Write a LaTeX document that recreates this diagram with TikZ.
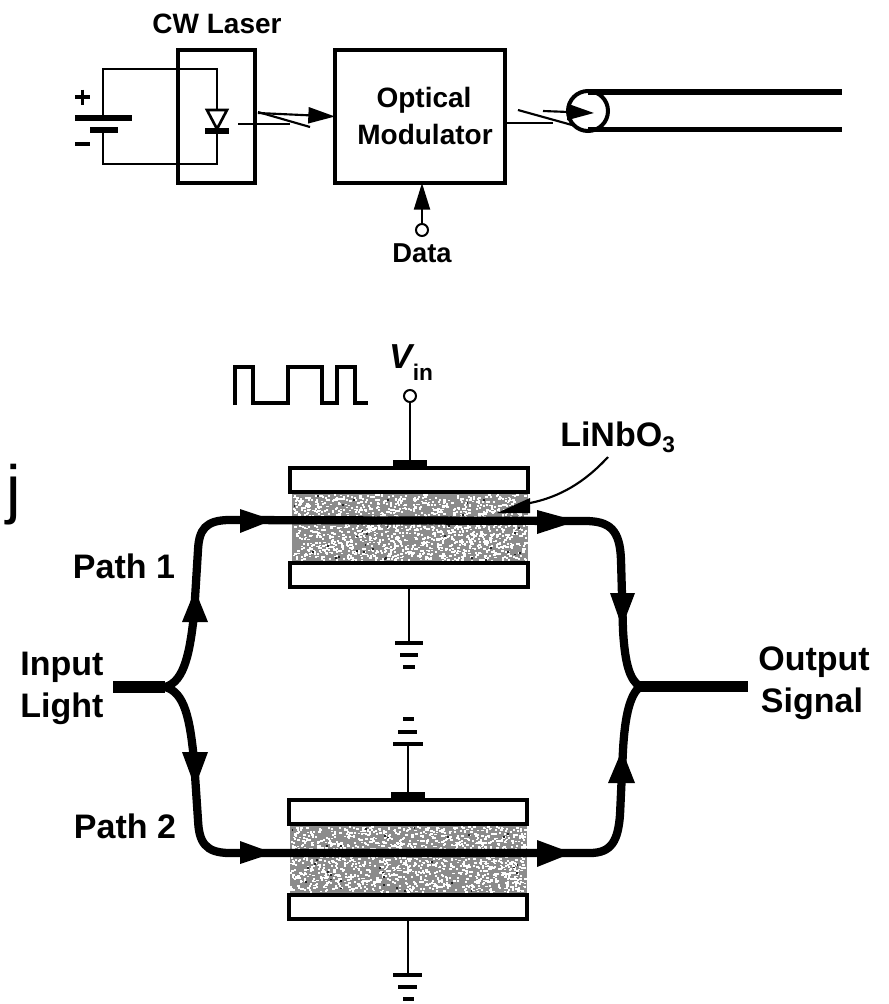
\documentclass[tikz,border=0pt]{standalone}
\usepackage{fontspec}
\setmainfont{Liberation Sans}
\usetikzlibrary{arrows.meta}
\newcommand{\speckle}[4]{%
  \fill[black!45] (#1,#2) rectangle ++(#3,#4);
  \foreach \i in {1,...,1500}{%
    \pgfmathsetmacro\xa{#1+rnd*(#3-2)}\pgfmathsetmacro\ya{#2+rnd*(#4-2)}%
    \fill[white] (\xa,\ya) rectangle ++(2.2,1.8);}
  \foreach \i in {1,...,35}{%
    \pgfmathsetmacro\xa{#1+rnd*(#3-2)}\pgfmathsetmacro\ya{#2+rnd*(#4-2)}%
    \fill[black!85] (\xa,\ya) rectangle ++(1.8,1.8);}
}
\tikzset{
  lab/.style={anchor=base,inner sep=0pt,font=\fontsize{25.5}{28}\selectfont\bfseries},
  labsm/.style={anchor=base,inner sep=0pt,font=\fontsize{21}{24}\selectfont\bfseries},
  box/.style={draw=black,line width=3.1pt,fill=white,inner sep=0pt,outer sep=0pt},
  plate/.style={box,minimum width=178pt,minimum height=18.5pt},
  pad/.style={fill=black,inner sep=0pt,outer sep=0pt,minimum width=25pt,minimum height=5pt},
  term/.style={circle,draw=black,fill=white,line width=1.5pt,inner sep=0pt,outer sep=0pt,minimum size=9pt},
  wire/.style={line width=2pt,line cap=butt},
  lead/.style={line width=2pt},
  thin wire/.style={line width=1.6pt},
  guide/.style={line width=6.2pt,line cap=round},
  trunk/.style={line width=8.4pt},
  fib/.style={line width=4.2pt},
  gbar/.style={line width=3.4pt},
  tip/.style={-{Triangle[length=20pt,width=12pt]},thin wire},
  head/.style={fill=black},
}
\begin{document}
\begin{tikzpicture}[x=0.75pt,y=-0.75pt]
\useasboundingbox (0,0) rectangle (889,1004);
\pgfmathsetseed{4711}

%% --- top: laser and modulator ---
\node[labsm] (cw) at (217,33) {CW Laser};
\node[box,minimum width=57.75pt,minimum height=99.75pt,fill=none] (laser) at (216.5,116.5) {};
\node[box,minimum width=127.5pt,minimum height=99.75pt] (mod) at (420,116.5) {};
\node[labsm] (opt) at (424,107) {Optical};
\node[labsm] (modt) at (425,144) {Modulator};

% battery
\coordinate (wtl) at (103,69); \coordinate (wtr) at (217,69);
\coordinate (wbl) at (103,164); \coordinate (wbr) at (217,164);
\coordinate (batA) at (103,118); \coordinate (batB) at (103,130);
\coordinate (diA) at (217,110); \coordinate (diB) at (217,131);
\draw[wire] (batA) -- (wtl) -- (wtr) -- (diA);
\draw[wire] (batB) -- (wbl) -- (wbr) -- (diB);
\draw[line width=4.6pt] (75,118) -- (132,118);
\draw[line width=4.6pt] (90,130) -- (118,130);
\draw[line width=2.4pt] (75,97) -- (90,97) (82.5,89.5) -- (82.5,104.5);
\draw[line width=2.4pt] (75,144) -- (90,144);
% diode
\draw[line width=2pt,fill=white,line join=miter] (207,110) -- (227,110) -- (217,129) -- cycle;
\draw[line width=3.8pt] (205,131) -- (229,131);

% lightning 1
\coordinate (la) at (258,113);
\draw[tip] (la) -- (mod.west);
\draw[thin wire] (238,124) -- (290,124);
\draw[thin wire] (258,112) -- (310,127);

% fibre
\node[circle,draw=black,line width=3pt,minimum size=30pt,inner sep=0pt,outer sep=0pt] (fibre) at (588,111) {};
\coordinate (ft) at (842,92); \coordinate (fb) at (842,129.5);
\draw[fib] (fibre.center |- ft) -- (ft);
\draw[fib] (fibre.center |- fb) -- (fb);
\coordinate (lb) at (543,111); \coordinate (lbt) at (594,113);
\draw[tip] (lb) -- (lbt);
\draw[thin wire] (505,123) -- (553,123);
\draw[thin wire] (518,110) -- (572,125);

% data
\node[term] (dc) at (422,230) {};
\node[labsm,font=\fontsize{20.5}{24}\selectfont\bfseries] (data) at (422,262) {Data};
\draw[tip] (dc.north) -- (dc.north |- mod.south);

%% --- bottom: modulator arms ---
\speckle{292}{494}{236}{68}
\speckle{290}{826}{237}{67}
\node[plate] (pa) at (409,480) {};
\node[plate] (pb) at (409,575) {};
\node[plate] (pc) at (408,812) {};
\node[plate] (pd) at (408,907) {};
\node[pad] (padA) at (410,463.5) {};
\node[pad] (padC) at (408,795) {};

% Vin and waveform
\node[term] (vin) at (410,396) {};
\node[inner sep=0pt,anchor=base,font=\fontsize{26}{28}\selectfont\bfseries\itshape] (vt) at (401,368) {V};
\node[inner sep=0pt,anchor=base,font=\fontsize{17}{20}\selectfont\bfseries] (vs) at (423,380) {in};
\draw[lead] (vin.south) -- (padA.north);
\draw[line width=3pt,line join=miter] (235,405) -- (235,367) -- (253,367) -- (253,403) -- (288,403) -- (288,367) -- (322,367) -- (322,403) -- (337,403) -- (337,367) -- (355,367) -- (355,403) -- (368,403);

% grounds
\coordinate (g1) at (409,643);
\draw[lead] (pb.south) -- (g1);
\draw[gbar] (395,643) -- (423,643);
\draw[gbar] (400,655) -- (418,655);
\draw[gbar] (403,667) -- (415,667);
\coordinate (g2) at (408,744);
\draw[lead] (padC.north) -- (g2);
\draw[gbar] (393,744) -- (423,744);
\draw[gbar] (398,732) -- (417,732);
\draw[gbar] (403,719) -- (414,719);
\coordinate (g3) at (408,975);
\draw[lead] (pd.south) -- (g3);
\draw[gbar] (393,975) -- (422,975);
\draw[gbar] (398,987) -- (417,987);
\draw[gbar] (403,999) -- (414,999);

% waveguides
\coordinate (inL) at (113,687); \coordinate (inJ) at (165,687);
\coordinate (outJ) at (640,686.5); \coordinate (outR) at (748,686.5);
\draw[trunk] (inL) -- (inJ);
\draw[trunk] (outJ) -- (outR);
\draw[guide] (inJ) .. controls (185,682) and (190,650) .. (194,615) -- (198,550) .. controls (199,530) and (205,520) .. (230,520) -- (585,521) .. controls (610,521) and (620,530) .. (621,560) -- (623,630) .. controls (625,665) and (630,680) .. (outJ);
\draw[guide] (inJ) .. controls (185,692) and (190,720) .. (194,760) -- (198,820) .. controls (199,842) and (205,853) .. (230,853) -- (590,853) .. controls (612,853) and (618,840) .. (620,815) -- (623,750) .. controls (625,715) and (630,695) .. (outJ);
% arrowheads on the guides
\fill[head] (195,590) -- (182,622) -- (208,622) -- cycle;
\fill[head] (273,520) -- (240,509) -- (240,533) -- cycle;
\fill[head] (577,521) -- (537,510) -- (537,534) -- cycle;
\fill[head] (622,627) -- (610,593) -- (635,593) -- cycle;
\fill[head] (195,787) -- (182,752) -- (208,752) -- cycle;
\fill[head] (273,853) -- (240,841) -- (240,864) -- cycle;
\fill[head] (572,853) -- (537,840) -- (537,867) -- cycle;
\fill[head] (622,750) -- (608,783) -- (635,783) -- cycle;

% LiNbO3 leader
\node[lab,anchor=base west] (lin) at (560,446) {LiNbO\raisebox{-5pt}{\fontsize{17}{20}\selectfont 3}};
\coordinate (lc) at (608,457); \coordinate (ld) at (530,503);
\draw[line width=1.6pt] (lc) .. controls (585,482) and (560,497) .. (ld);
\fill[head] (530,498) -- (530,513) -- (497,513) -- cycle;

% labels
\node[lab] (p1) at (124,578) {Path 1};
\node[lab] (p2) at (125,838) {Path 2};
\node[lab] (i1) at (62,675) {Input};
\node[lab] (i2) at (62,717) {Light};
\node[lab] (o1) at (814,670) {Output};
\node[lab] (o2) at (812,712) {Signal};
\node[anchor=base west,inner sep=0pt,font=\fontsize{49}{52}\selectfont] (jj) at (6,511) {j};
\end{tikzpicture}
\end{document}
